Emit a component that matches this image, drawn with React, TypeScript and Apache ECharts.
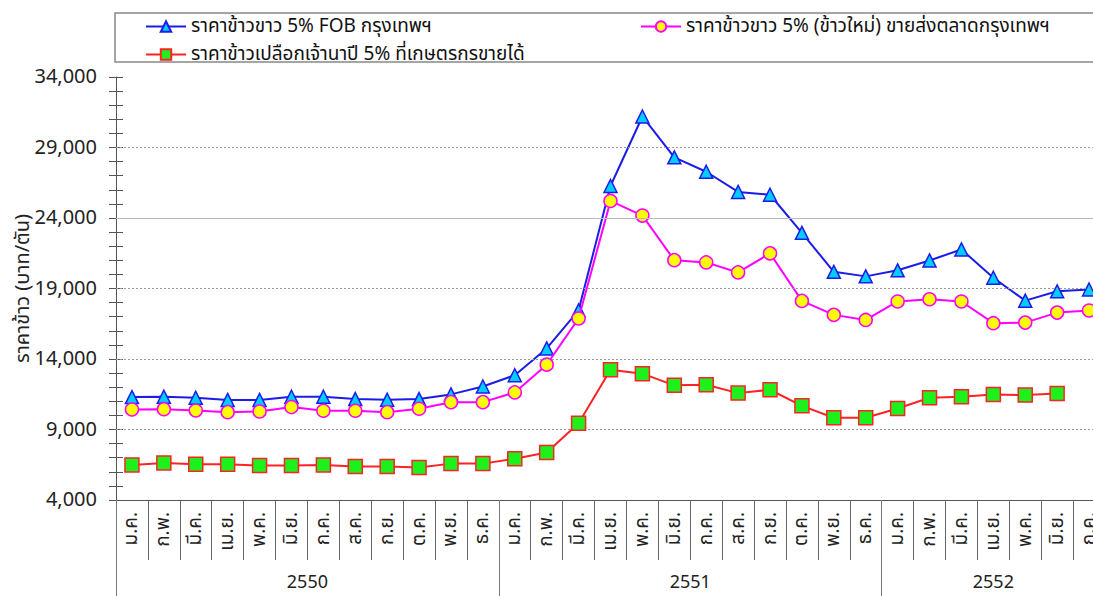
import React, { useEffect, useRef } from "react";
import * as echarts from "echarts";

const FONT = 'Tahoma, "Noto Sans Thai", "DejaVu Sans", "Noto Sans", sans-serif';

const monthNames = ["ม.ค.", "ก.พ.", "มี.ค.", "เม.ย.", "พ.ค.", "มิ.ย.", "ก.ค.", "ส.ค.", "ก.ย.", "ต.ค.", "พ.ย.", "ธ.ค."];
const years = ["2550", "2551", "2552"];
const monthsPerYear = [12, 12, 7];

const seriesNames = [
  "ราคาข้าวขาว 5% FOB กรุงเทพฯ",
  "ราคาข้าวขาว 5% (ข้าวใหม่) ขายส่งตลาดกรุงเทพฯ",
  "ราคาข้าวเปลือกเจ้านาปี 5% ที่เกษตรกรขายได้",
];

const fobPrice = [
  11300, 11320, 11250, 11100, 11100, 11320, 11320, 11160, 11110, 11160, 11490, 12050,
  12850, 14750, 17450, 26270, 31200, 28300, 27280, 25850, 25650, 22950, 20180, 19860,
  20290, 20990, 21770, 19760, 18140, 18800, 18930,
];
const wholesalePrice = [
  10420, 10440, 10350, 10230, 10280, 10590, 10330, 10330, 10230, 10470, 10940, 10940,
  11630, 13600, 16870, 25210, 24170, 21010, 20850, 20140, 21490, 18120, 17130, 16770,
  18080, 18240, 18080, 16540, 16580, 17290, 17440,
];
const paddyPrice = [
  6490, 6630, 6540, 6540, 6440, 6440, 6490, 6370, 6370, 6300, 6580, 6580,
  6920, 7370, 9450, 13240, 12960, 12130, 12170, 11580, 11820, 10680, 9830, 9830,
  10490, 11250, 11320, 11490, 11440, 11560, null,
];

const yMin = 4000;
const yMax = 34000;
const yStep = 5000;
const dottedGrid = [9000, 14000, 19000, 29000];
const solidGrid = [24000];

export default function App() {
  const ref = useRef<HTMLDivElement>(null);
  useEffect(() => {
    if (!ref.current) return;
    const chart = echarts.init(ref.current, null, { renderer: "svg" });

    const categories: string[] = [];
    monthsPerYear.forEach((n) => {
      for (let i = 0; i < n; i++) categories.push(monthNames[i]);
    });
    const yearBounds: number[] = [];
    const yearCenters: number[] = [];
    let acc = 0;
    monthsPerYear.forEach((n) => {
      yearBounds.push(acc);
      yearCenters.push(acc + n / 2);
      acc += n;
    });
    const total = acc;

    const gridData = [
      ...dottedGrid.map((v) => ({ yAxis: v, lineStyle: { color: "#9a9a9a", type: [2, 2], width: 1 } })),
      ...solidGrid.map((v) => ({ yAxis: v, lineStyle: { color: "#bbbbbb", type: "solid", width: 1.2 } })),
    ];

    const legendBase = {
      itemWidth: 40,
      itemHeight: 13,
      textStyle: { fontSize: 19, color: "#111", fontFamily: FONT },
      padding: 0,
    };

    chart.setOption({
      animation: false,
      textStyle: { fontFamily: FONT },
      graphic: [
        {
          type: "rect",
          shape: { x: 115, y: 13, width: 1000, height: 49 },
          style: { fill: "none", stroke: "#888", lineWidth: 1.5 },
          silent: true,
        },
      ],
      legend: [
        { ...legendBase, data: [seriesNames[0]], left: 145, top: 17 },
        { ...legendBase, data: [seriesNames[1]], left: 640, top: 17 },
        { ...legendBase, data: [seriesNames[2]], left: 145, top: 45 },
      ],
      grid: { left: 116, top: 77, width: 989, height: 423, outerBoundsMode: "none", containLabel: false },
      xAxis: [
        {
          type: "category",
          data: categories,
          position: "bottom",
          boundaryGap: true,
          axisLine: { show: true, lineStyle: { color: "#555", width: 1 } },
          axisTick: { show: true, interval: 0, length: 60, lineStyle: { color: "#666" } },
          axisLabel: { interval: 0, rotate: 90, margin: 12, fontSize: 19, color: "#222" },
          splitLine: { show: false },
        },
        {
          type: "value",
          min: 0,
          max: total,
          position: "bottom",
          axisLine: { show: false },
          axisTick: { show: true, customValues: yearBounds, length: 100, lineStyle: { color: "#777" } },
          axisLabel: {
            customValues: yearCenters,
            margin: 73,
            fontSize: 18,
            lineHeight: 18,
            color: "#222",
            formatter: (v: number) => {
              const i = yearCenters.findIndex((c) => Math.abs(c - v) < 1e-6);
              return i >= 0 ? years[i] : "";
            },
          },
          splitLine: { show: false },
        },
      ],
      yAxis: [
        {
          type: "value",
          min: yMin,
          max: yMax,
          interval: yStep,
          position: "left",
          name: "ราคาข้าว (บาท/ตัน)",
          nameLocation: "middle",
          nameGap: 82,
          nameMoveOverlap: false,
          nameTextStyle: { fontSize: 20, lineHeight: 22, color: "#222" },
          axisLine: { show: true, lineStyle: { color: "#555" } },
          axisTick: { show: true, length: 7, lineStyle: { color: "#555" } },
          minorTick: { show: true, splitNumber: 5, length: 7, lineStyle: { color: "#555" } },
          axisLabel: {
            margin: 19,
            fontSize: 20,
            color: "#222",
            formatter: (v: number) => v.toLocaleString("en-US"),
          },
          splitLine: { show: false },
        },
        {
          type: "value",
          min: yMin,
          max: yMax,
          interval: yStep,
          position: "left",
          axisLine: { show: false },
          axisTick: { show: true, inside: true, length: 7, lineStyle: { color: "#555" } },
          minorTick: { show: true, splitNumber: 5, length: 7, lineStyle: { color: "#555" } },
          axisLabel: { show: false },
          splitLine: { show: false },
        },
      ],
      series: [
        {
          name: "__grid",
          type: "line",
          data: [],
          silent: true,
          z: 0,
          markLine: { silent: true, symbol: ["none", "none"], label: { show: false }, data: gridData },
        },
        {
          name: seriesNames[0],
          type: "line",
          data: fobPrice,
          symbol: "triangle",
          symbolSize: 13,
          lineStyle: { color: "#1c1ce6", width: 2 },
          itemStyle: { color: "#00ccff", borderColor: "#1c1ce6", borderWidth: 1.5 },
          z: 3,
        },
        {
          name: seriesNames[1],
          type: "line",
          data: wholesalePrice,
          symbol: "circle",
          symbolSize: 13,
          lineStyle: { color: "#ff00ff", width: 2 },
          itemStyle: { color: "#ffff00", borderColor: "#ff00ff", borderWidth: 1.5 },
          z: 4,
        },
        {
          name: seriesNames[2],
          type: "line",
          data: paddyPrice,
          symbol: "rect",
          symbolSize: 14,
          lineStyle: { color: "#ff2222", width: 2 },
          itemStyle: { color: "#1ef01e", borderColor: "#ff2222", borderWidth: 1.5 },
          z: 5,
        },
      ],
    });
    return () => chart.dispose();
  }, []);
  return (
    <div
      ref={ref}
      style={{ position: "absolute", left: 0, top: 0, width: 1093, height: 596, background: "#fff" }}
    />
  );
}
